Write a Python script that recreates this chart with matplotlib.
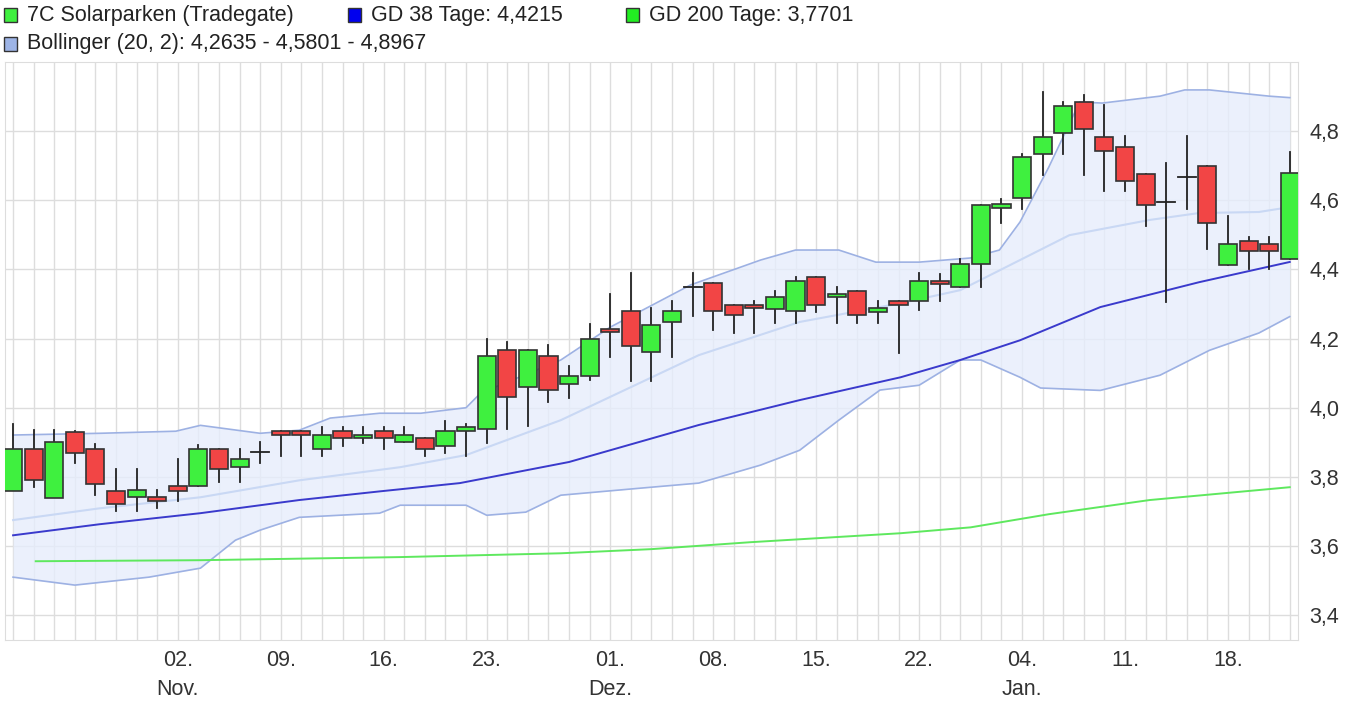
import matplotlib
matplotlib.use("Agg")
import matplotlib.pyplot as plt
from matplotlib.patches import Rectangle
import numpy as np

plt.rcParams['font.family'] = ['Liberation Sans', 'DejaVu Sans']

opens  = [3.76,3.88,3.74,3.93,3.88,3.76,3.742,3.743,3.773,3.773,3.882,3.829,3.871,3.932,3.932,3.88,3.932,3.911,3.932,3.90,3.911,3.89,3.932,
          3.939,4.167,4.059,4.149,4.069,4.091,4.229,4.28,4.16,4.247,4.348,4.36,4.297,4.297,4.286,4.279,4.377,4.319,4.337,4.278,4.308,4.309,4.366,4.348,
          4.417,4.578,4.607,4.735,4.794,4.883,4.782,4.753,4.675,4.595,4.667,4.699,4.414,4.482,4.473,4.431]
closes = [3.88,3.79,3.90,3.87,3.78,3.721,3.761,3.731,3.76,3.882,3.822,3.853,3.871,3.921,3.921,3.921,3.911,3.921,3.911,3.921,3.88,3.932,3.945,
          4.149,4.03,4.167,4.05,4.091,4.20,4.218,4.178,4.239,4.279,4.348,4.279,4.268,4.288,4.319,4.366,4.298,4.328,4.268,4.287,4.297,4.366,4.359,4.417,
          4.586,4.588,4.724,4.782,4.873,4.805,4.743,4.656,4.586,4.595,4.667,4.533,4.473,4.454,4.454,4.68]
highs  = [3.954,3.935,3.935,3.932,3.896,3.824,3.824,3.763,3.853,3.893,3.882,3.882,3.90,3.932,3.932,3.945,3.945,3.945,3.945,3.945,3.911,3.962,3.954,
          4.20,4.189,4.167,4.18,4.121,4.241,4.328,4.39,4.287,4.309,4.39,4.36,4.297,4.309,4.338,4.378,4.377,4.35,4.337,4.309,4.308,4.39,4.388,4.429,
          4.586,4.605,4.735,4.914,4.885,4.904,4.875,4.785,4.675,4.707,4.785,4.699,4.553,4.494,4.494,4.74]
lows   = [3.761,3.771,3.742,3.84,3.749,3.70,3.70,3.709,3.731,3.773,3.786,3.786,3.839,3.86,3.86,3.86,3.89,3.897,3.88,3.90,3.86,3.87,3.86,
          3.899,3.938,3.948,4.017,4.028,4.08,4.147,4.078,4.078,4.147,4.266,4.226,4.217,4.217,4.245,4.245,4.277,4.245,4.245,4.245,4.159,4.284,4.309,4.348,
          4.348,4.535,4.576,4.673,4.735,4.673,4.626,4.626,4.525,4.306,4.576,4.459,4.414,4.40,4.40,4.431]

ma38_x = [0,4.2,9.1,13.9,17.8,21.7,27.0,33.3,38.2,43.1,46.0,48.9,52.8,57.6,62]
ma38_y = [3.631,3.663,3.695,3.733,3.758,3.782,3.843,3.95,4.022,4.088,4.138,4.195,4.291,4.363,4.4215]
ma200_x = [1.1,9.1,18.8,26.6,31.0,35.8,43.1,46.5,50.3,55.2,62]
ma200_y = [3.556,3.559,3.568,3.579,3.591,3.611,3.637,3.654,3.692,3.733,3.7701]
bb_up_x = [0,4.2,7.9,9.1,12.0,13.9,15.4,17.8,19.8,22.0,22.7,26.6,29.0,32.9,36.3,38.0,40.1,41.9,44.0,46.5,47.9,48.9,50.3,51.8,52.9,55.7,56.9,58.1,61.0,62]
bb_up_y = [3.921,3.926,3.932,3.949,3.926,3.935,3.97,3.984,3.984,4.0,4.042,4.138,4.233,4.355,4.427,4.456,4.456,4.421,4.421,4.433,4.456,4.537,4.696,4.884,4.881,4.901,4.919,4.919,4.901,4.8967]
bb_mid_x = [0,4.2,9.1,13.9,18.8,22.0,26.6,33.3,38.2,43.1,46.0,48.9,51.3,55.2,57.6,60.5,62]
bb_mid_y = [3.675,3.709,3.741,3.79,3.828,3.863,3.964,4.152,4.248,4.302,4.34,4.427,4.499,4.543,4.563,4.566,4.5801]
bb_lo_x = [0,3.0,6.6,9.1,10.8,12.0,13.9,17.8,18.8,22.0,23.0,24.9,26.6,30.4,33.3,36.3,38.2,40.1,42.1,44.0,46.0,47.0,48.9,49.9,52.8,55.7,58.1,60.5,62]
bb_lo_y = [3.51,3.487,3.51,3.536,3.617,3.646,3.683,3.695,3.718,3.718,3.689,3.698,3.747,3.767,3.782,3.834,3.877,3.964,4.051,4.065,4.138,4.138,4.088,4.057,4.05,4.094,4.166,4.216,4.2635]

tick_pos = [8,13,18,23,29,34,39,44,49,54,59]
tick_lab = ["02.","09.","16.","23.","01.","08.","15.","22.","04.","11.","18."]
month_pos = [8,29,49]
month_lab = ["Nov.","Dez.","Jan."]
yticks = [3.4,3.6,3.8,4.0,4.2,4.4,4.6,4.8]

FS = 15.5
fig = plt.figure(figsize=(13.62,7.2), dpi=100)
ax = fig.add_axes([0.0037,0.111,0.9493,0.803])
n = len(opens)
ax.set_xlim(-0.39,62.4)
ax.set_ylim(3.328,5.0)

for i in range(n):
    ax.axvline(i, color='#dddddd', lw=1, zorder=0)
for y in yticks:
    ax.axhline(y, color='#dddddd', lw=1, zorder=0)

bx = np.linspace(0,62,400)
up = np.interp(bx, bb_up_x, bb_up_y)
lo = np.interp(bx, bb_lo_x, bb_lo_y)
ax.fill_between(bx, lo, up, color='#e6edfc', alpha=0.8, zorder=1, lw=0)
ax.plot(bb_up_x, bb_up_y, color='#9db1e3', lw=1.2, zorder=2)
ax.plot(bb_lo_x, bb_lo_y, color='#9db1e3', lw=1.2, zorder=2)
ax.plot(bb_mid_x, bb_mid_y, color='#c9d8f4', lw=1.5, zorder=2)
ax.plot(ma38_x, ma38_y, color='#3a3acc', lw=1.4, zorder=3)
ax.plot(ma200_x, ma200_y, color='#5ee85e', lw=1.4, zorder=3)

w = 0.88
for i in range(n):
    o, c, h, l = opens[i], closes[i], highs[i], lows[i]
    ax.plot([i,i],[l,h], color='#222222', lw=1.3, zorder=4)
    if abs(c-o) < 0.002:
        ax.plot([i-w/2,i+w/2],[o,o], color='#222222', lw=1.3, zorder=5)
        continue
    col = '#3ff03f' if c > o else '#f24545'
    ax.add_patch(Rectangle((i-w/2, min(o,c)), w, abs(c-o), facecolor=col,
                           edgecolor='#333333', lw=1.2, zorder=5))

ax.yaxis.tick_right()
ax.set_yticks(yticks)
ax.set_yticklabels([f"{v:.1f}".replace('.',',') for v in yticks], fontsize=FS, color='#333333')
ax.set_xticks(tick_pos)
ax.set_xticklabels(tick_lab, fontsize=FS, color='#333333')
ax.tick_params(length=0, pad=7)
ax.tick_params(axis='y', pad=8)
for p, lab in zip(month_pos, month_lab):
    ax.text(p, -0.068, lab, transform=ax.get_xaxis_transform(), ha='center', va='top', fontsize=FS, color='#333333')
for s in ax.spines.values():
    s.set_color('#dddddd')

def leg(xpx, ypx, color, text):
    fig.patches.append(Rectangle((xpx/1362, 1-(ypx+7)/720), 13/1362, 14/720, transform=fig.transFigure,
                                 facecolor=color, edgecolor='#333333', lw=1))
    fig.text((xpx+23)/1362, 1-ypx/720, text, fontsize=FS, va='center', color='#222222')
leg(4,15,'#3ff03f','7C Solarparken (Tradegate)')
leg(348,15,'#0000ee','GD 38 Tage: 4,4215')
leg(626,15,'#22ee22','GD 200 Tage: 3,7701')
leg(4,44,'#9db4e6','Bollinger (20, 2): 4,2635 - 4,5801 - 4,8967')

fig.savefig('out.png', dpi=100)
